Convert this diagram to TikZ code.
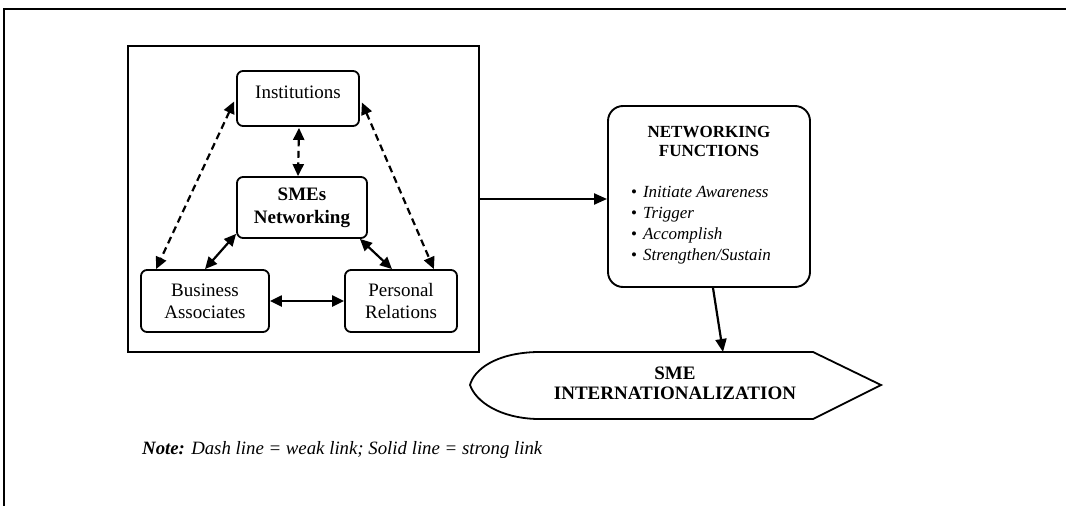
\documentclass[tikz,border=0pt]{standalone}
\usepackage{fontspec}
\setmainfont{Liberation Serif}
\usetikzlibrary{arrows.meta,calc}
\newcommand{\fitem}[1]{\textbullet\hspace{6pt}\textit{#1}}
\begin{document}
\begin{tikzpicture}[x=1pt,y=-1pt,
  box/.style={draw,line width=1.8pt,rounded corners=6pt,inner sep=0pt,align=center,
    font=\fontsize{19}{22}\selectfont},
  link/.style={line width=2.2pt,{Triangle[length=12pt,width=11pt]}-{Triangle[length=12pt,width=11pt]}},
  weak/.style={link,dash pattern=on 7pt off 4.5pt},
  flow/.style={line width=2.2pt,-{Triangle[length=13pt,width=11pt]}}]
\useasboundingbox (0,0) rectangle (1066,506);
% page frame
\draw[line width=2.4pt] (4,506) -- (4,9) -- (1066,9);

% network panel
\node[draw,line width=1.9pt,minimum width=351pt,minimum height=306pt,inner sep=0pt] (panel) at (303.5,199) {};
\node[box,minimum width=122pt,minimum height=55pt,text depth=13pt] (inst) at (298,98.5) {Institutions};
\node[box,minimum width=130pt,minimum height=61pt,font=\fontsize{19}{23}\selectfont\bfseries] (sme) at (302,207.5) {SMEs\\Networking};
\node[box,minimum width=128pt,minimum height=62pt] (ba) at (205,301) {Business\\Associates};
\node[box,minimum width=112pt,minimum height=62pt] (pr) at (401,301) {Personal\\Relations};

% links between actors
\draw[weak] ($(inst.south)+(1,1)$) -- (inst.south |- sme.north);
\draw[weak] ($(inst.west)+(-2,3)$) -- ($(ba.north west)+(16,0)$);
\draw[weak] ($(inst.east)+(2,4)$) -- ($(pr.north east)+(-24,0)$);
\draw[link] ($(sme.south west)+(0,-5)$) -- (ba.north);
\draw[link] ($(sme.south east)+(-8,0)$) -- ($(pr.north)+(-9,0)$);
\draw[link] (ba.east) -- (pr.west);

% networking functions
\node[draw,line width=1.9pt,rounded corners=15pt,minimum width=202pt,minimum height=181pt,inner sep=0pt,align=center,font=\fontsize{17}{21}\selectfont] (nf) at (709,196.5) {\textbf{NETWORKING}\\[-2pt]\textbf{FUNCTIONS}\\[20pt]\begin{tabular}[t]{@{}l@{}}\fitem{Initiate Awareness}\\\fitem{Trigger}\\\fitem{Accomplish}\\\fitem{Strengthen/Sustain}\end{tabular}\kern16pt};
\draw[flow] (panel.east) -- (panel.east -| nf.west);

% outcome
\node[align=center,inner sep=0pt,font=\fontsize{19}{20}\selectfont\bfseries] (out) at (675,383) {SME\\INTERNATIONALIZATION};
\draw[line width=1.8pt] (537,352) .. controls (495,353) and (474,370) .. (470,385)
  .. controls (476,402) and (500,418) .. (537,419) -- (813,419) -- (881,385) -- (813,352) -- cycle;
\coordinate (outtop) at (723,352);
\draw[flow] ($(nf.south)+(4,0)$) -- (outtop);

% legend
\node[anchor=west,inner sep=0pt,font=\fontsize{18.8}{20}\selectfont\itshape] (note) at (142,450) {\textbf{Note:} Dash line = weak link; Solid line = strong link};
\end{tikzpicture}
\end{document}
